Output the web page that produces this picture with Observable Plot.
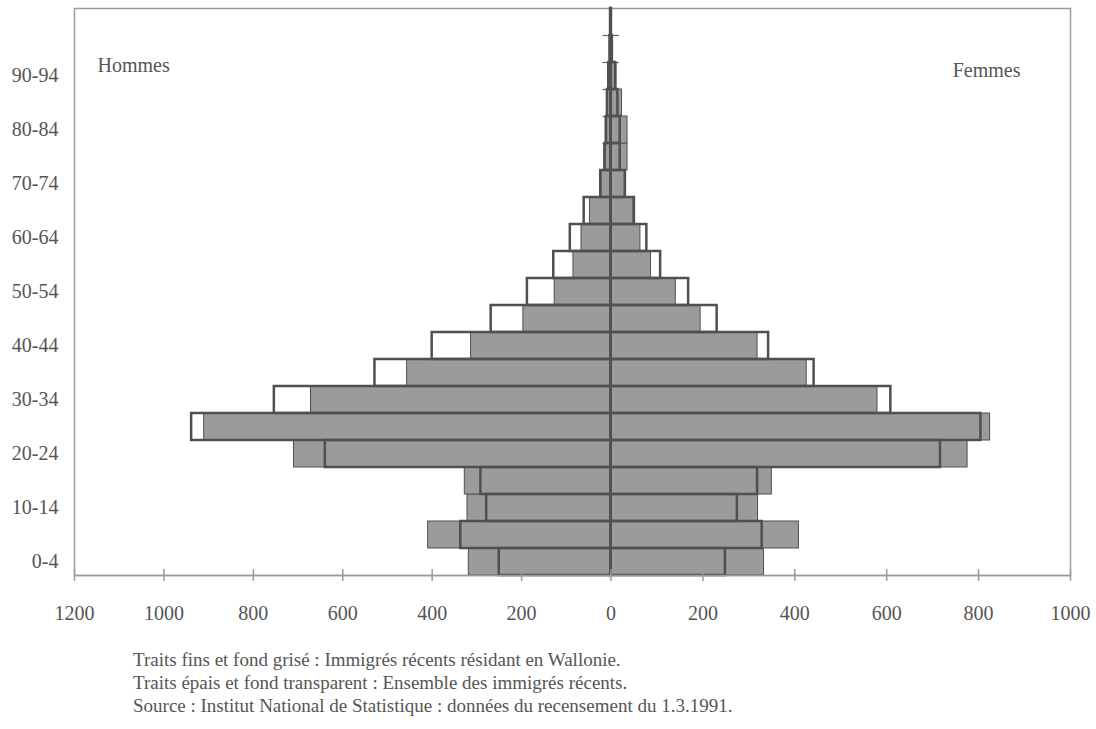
<!DOCTYPE html>
<html><head><meta charset="utf-8">
<script src="https://cdn.jsdelivr.net/npm/d3@7"></script>
<script src="https://cdn.jsdelivr.net/npm/@observablehq/plot@0.6"></script>
<style>
body{margin:0;background:#fff;font-family:"Liberation Serif","Times New Roman",serif;}
#caption{margin:8px 0 0 133px;color:#555;font-size:19px;line-height:23px;}
</style></head><body>
<div id="chart"></div>
<div id="caption">
<div>Traits fins et fond grisé : Immigrés récents résidant en Wallonie.</div>
<div>Traits épais et fond transparent : Ensemble des immigrés récents.</div>
<div>Source : Institut National de Statistique : données du recensement du 1.3.1991.</div>
</div>
<script>
const ages = ["0-4","5-9","10-14","15-19","20-24","25-29","30-34","35-39","40-44","45-49","50-54","55-59","60-64","65-69","70-74","75-79","80-84","85-89","90-94","95-99","100+"];
const hommesWallonie = [318,409,321,327,709,910,671,456,313,196,126,84,66,47,21,15,12,9,6,3,1];
const hommesEnsemble = [250,336,278,291,639,938,753,528,400,268,187,128,91,60,23,13,10,8,5,2,1];
const femmesWallonie = [333,409,320,350,776,825,580,426,319,195,141,87,64,49,33,36,36,24,12,4,1];
const femmesEnsemble = [249,329,275,319,717,805,609,442,343,231,169,108,78,51,31,20,20,15,10,3,1];
const xTicks = [-1200,-1000,-800,-600,-400,-200,0,200,400,600,800,1000];
const yLabels = ["0-4","10-14","20-24","30-34","40-44","50-54","60-64","70-74","80-84","90-94"];

const rows = ages.map((age, i) => ({age, i,
  hw: hommesWallonie[i], he: hommesEnsemble[i],
  fw: femmesWallonie[i], fe: femmesEnsemble[i]}));
const labelPos = yLabels.map(l => ages.indexOf(l) + 0.5);

const gray = "#9b9b9b", dark = "#505050", frameC = "#9a9a9a";

const chart = Plot.plot({
  width: 1096, height: 640,
  marginLeft: 74, marginRight: 26, marginTop: 8, marginBottom: 65,
  style: {fontFamily: "'Liberation Serif', serif", fontSize: "20px", color: "#555", background: "#fff"},
  x: {type: "linear", domain: [-1200, 0, 1000], range: [74, 610.5, 1070]},
  y: {type: "linear", domain: [0, ages.length]},
  marks: [
    Plot.frame({stroke: frameC, strokeWidth: 1.5}),
    Plot.ruleY(d3.range(1, ages.length), {y: d => d, x1: -18, x2: 18, stroke: "#666", strokeWidth: 1.2}),
    Plot.rect(rows, {x1: 0, x2: d => -d.hw, y1: d => d.i, y2: d => d.i + 1, fill: gray, stroke: dark, strokeWidth: 1}),
    Plot.rect(rows, {x1: 0, x2: d => d.fw, y1: d => d.i, y2: d => d.i + 1, fill: gray, stroke: dark, strokeWidth: 1}),
    Plot.rect(rows, {x1: 0, x2: d => -d.he, y1: d => d.i, y2: d => d.i + 1, fill: "none", stroke: dark, strokeWidth: 2.5}),
    Plot.rect(rows, {x1: 0, x2: d => d.fe, y1: d => d.i, y2: d => d.i + 1, fill: "none", stroke: dark, strokeWidth: 2.5}),
    Plot.ruleX([0], {y1: 0, y2: ages.length, stroke: dark, strokeWidth: 2}),
    Plot.ruleY([0], {x1: -1200, x2: 1000, stroke: frameC, strokeWidth: 1.5}),
    Plot.ruleX(xTicks, {x: d => d, y1: -0.22, y2: 0.22, stroke: frameC, strokeWidth: 1.5}),
    Plot.axisX(xTicks, {tickSize: 0, tickPadding: 30, tickFormat: d => String(Math.abs(d)), fill: "#555", fontSize: 20}),
    Plot.axisY(labelPos, {tickSize: 0, tickPadding: 16, tickFormat: d => ages[Math.floor(d)], fill: "#555", fontSize: 20}),
    Plot.text(["Hommes"], {frameAnchor: "top-left", dx: 23, dy: 49, text: d => d, fill: "#555", fontSize: 20, lineAnchor: "top"}),
    Plot.text(["Femmes"], {frameAnchor: "top-right", dx: -50, dy: 54, text: d => d, fill: "#555", fontSize: 20, lineAnchor: "top"})
  ]
});
document.getElementById("chart").append(chart);
</script>
</body></html>
